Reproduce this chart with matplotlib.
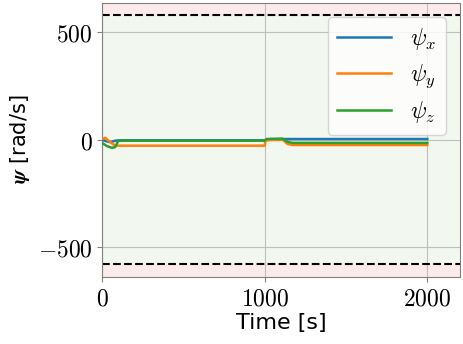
import matplotlib
matplotlib.use('Agg')
import matplotlib.pyplot as plt
from matplotlib.ticker import FuncFormatter

plt.rcParams['mathtext.fontset'] = 'cm'
plt.rcParams['font.family'] = 'DejaVu Sans'

# breakpoints
t_x = [0, 20, 50, 80, 110, 1000, 1010, 1100, 1130, 2000]
psi_x = [0, -6, -12, -5, -3, -3, -1, 2, 3, 3]

t_y = [0, 20, 40, 80, 1000, 1005, 1110, 1140, 1170, 2000]
psi_y = [4, 8, -5, -28, -28, -3, 0, -20, -25, -25]

t_z = [0, 30, 60, 80, 100, 1000, 1010, 1110, 1140, 1170, 2000]
psi_z = [-15, -30, -38, -35, -5, -5, 3, 5, -10, -15, -15]

limit = 580

fig = plt.figure(figsize=(4.64, 3.44), dpi=100)
ax = fig.add_axes([0.22, 0.196, 0.771, 0.796])

ax.axhspan(-limit, limit, color='#f2f7ef', zorder=0)
ax.axhspan(limit, 1.1 * limit, color='#fdeaea', zorder=0)
ax.axhspan(-1.1 * limit, -limit, color='#fdeaea', zorder=0)
ax.axhline(limit, color='k', ls='--', lw=1.5, zorder=1)
ax.axhline(-limit, color='k', ls='--', lw=1.5, zorder=1)

ax.plot(t_x, psi_x, color='#1f77b4', lw=1.8, label=r'$\psi_x$', zorder=3)
ax.plot(t_y, psi_y, color='#ff7f0e', lw=1.8, label=r'$\psi_y$', zorder=3)
ax.plot(t_z, psi_z, color='#2ca02c', lw=1.8, label=r'$\psi_z$', zorder=3)

ax.set_xlim(0, 2200)
ax.set_ylim(-1.1 * limit, 1.1 * limit)
ax.set_xticks([0, 1000, 2000])
ax.set_yticks([-500, 0, 500])
fmt = FuncFormatter(lambda v, p: r'$%d$' % v)
ax.xaxis.set_major_formatter(fmt)
ax.yaxis.set_major_formatter(fmt)
ax.tick_params(labelsize=17, color='0.5')
ax.grid(True, color='0.75', lw=0.8, zorder=1)
ax.set_axisbelow(True)
for s in ax.spines.values():
    s.set_color('0.5')

ax.set_xlabel('Time [s]', fontsize=16, labelpad=2)
ax.set_ylabel(r'$\boldsymbol{\psi}$ [rad/s]', fontsize=15)

ax.legend(loc='upper right', fontsize=17, handlelength=2.3, labelspacing=0.4,
          framealpha=0.8, borderaxespad=0.6)

fig.savefig('out.png', dpi=100)
